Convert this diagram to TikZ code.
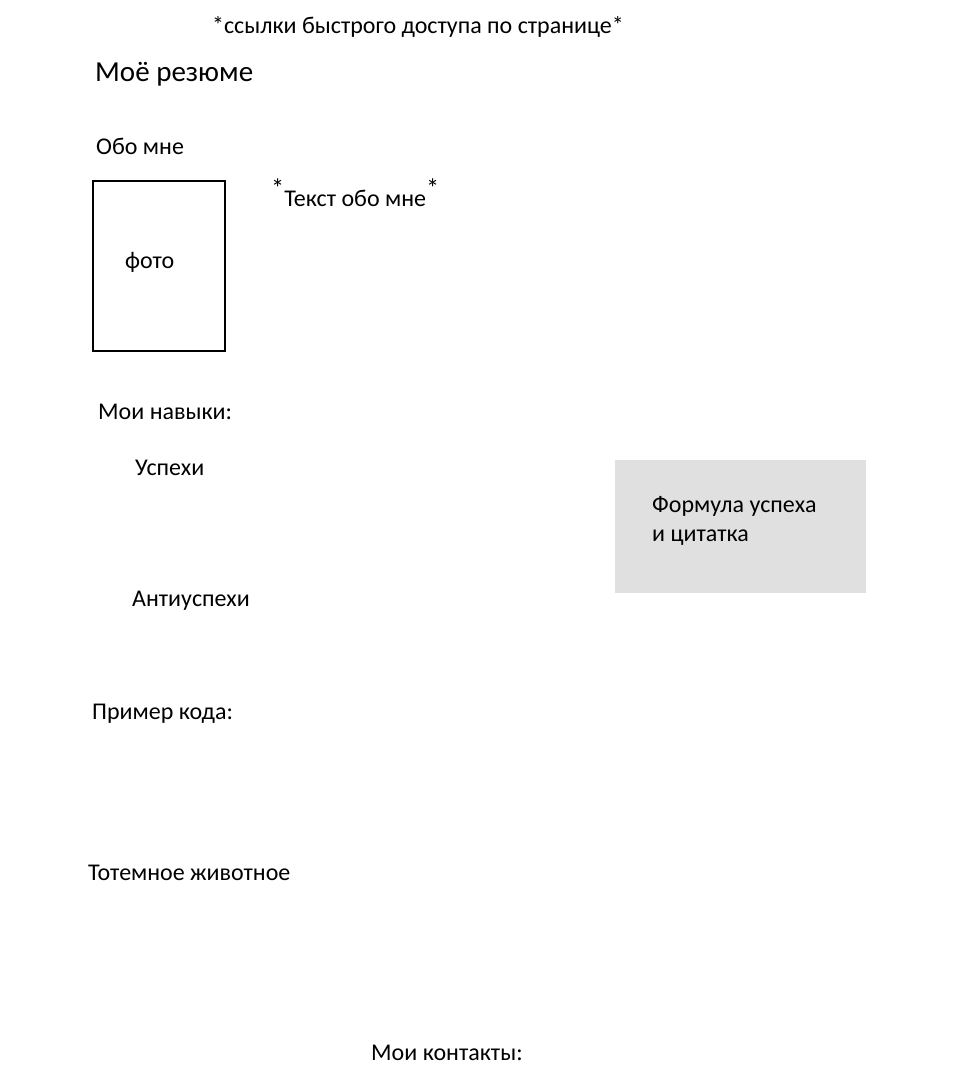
\documentclass[tikz,border=0pt]{standalone}
\usepackage{fontspec}
\usepackage{graphicx}
\setmainfont{Carlito}
% raised asterisk around the placeholder text
\newcommand{\upast}{\raisebox{0.35em}{\scalebox{1.1}{*}}}
\begin{document}
\begin{tikzpicture}[x=1pt,y=-1pt,
  lbl/.style={anchor=base west,inner sep=0pt,font=\fontsize{24}{29}\selectfont},
  title/.style={anchor=base west,inner sep=0pt,font=\fontsize{29}{35}\selectfont},
  photobox/.style={draw=black,line width=2pt},
  quotebox/.style={fill=quotegray,draw=none}]
\definecolor{quotegray}{HTML}{E0E0E0}
\useasboundingbox (0,0) rectangle (960,1080);
% header
\node[lbl] (links) at (212,33) {*ссылки быстрого доступа по странице*};
\node[title] (resume) at (95,81) {Моё резюме};
% about
\node[lbl] (about) at (96,154) {Обо мне};
\draw[photobox] (93,181) rectangle (225,351);
\node[lbl] (photo) at (125,268) {фото};
\node[lbl] (abouttext) at (271,206) {\upast Текст обо мне\upast};
% skills
\node[lbl] (skills) at (98,419) {Мои навыки:};
\node[lbl] (wins) at (135,475) {Успехи};
\node[lbl] (fails) at (132,606) {Антиуспехи};
\fill[quotebox] (615,460) rectangle (866,593);
\node[lbl] (formula1) at (652,512) {Формула успеха};
\node[lbl] (formula2) at (652,541) {и цитатка};
% other sections
\node[lbl] (code) at (92,719) {Пример кода:};
\node[lbl] (totem) at (88,880) {Тотемное животное};
\node[lbl] (contacts) at (371,1060) {Мои контакты:};
\end{tikzpicture}
\end{document}
